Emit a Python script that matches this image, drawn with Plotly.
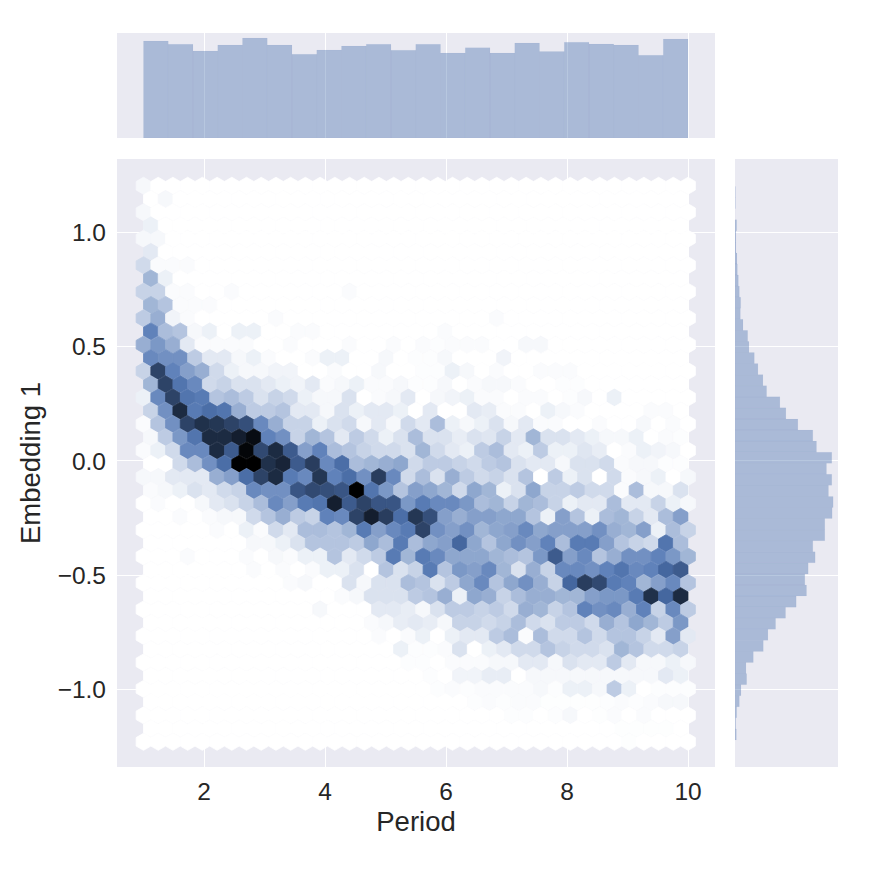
import colorsys
import plotly.graph_objects as go

# page offset of the plot div, sizes in px
PAGE = 872
OFFSET = 8
SIZE = PAGE - 2 * OFFSET

FONT = "Liberation Sans, Arial, sans-serif"
TEXT = "#262626"
PANEL = "#eaeaf2"
BASE = (0x4c / 255, 0x72 / 255, 0xb0 / 255)

X_TICKS = [2, 4, 6, 8, 10]
Y_TICKS = [-1.0, -0.5, 0.0, 0.5, 1.0]
X_RANGE = [0.562, 10.446]
Y_RANGE = [-1.338, 1.32]

# hex lattice
X_MIN, X_MAX = 1.0, 10.0
Y_TOP, Y_BOTTOM = 1.203, -1.228
N_COLS = 37
N_ROWS = 42
LEVEL_MAX = 38

# top marginal, 22 bins on Period
period_counts = [292, 282, 262, 280, 301, 280, 252, 265, 277, 282, 264,
                 282, 256, 272, 256, 286, 260, 288, 283, 280, 249, 298]

# right marginal, 50 bins on Embedding 1, top to bottom
embedding_counts = [1, 1, 0, 5, 3, 3, 6, 7, 10, 13, 17, 16, 24, 38, 42, 58, 69,
                    84, 95, 135, 153, 189, 234, 245, 291, 275, 291, 281, 295,
                    292, 270, 270, 234, 241, 220, 210, 215, 184, 152, 122, 99,
                    85, 55, 33, 35, 18, 13, 5, 2, 4]
EMB_TOP, EMB_BOTTOM = 1.2, -1.22

# darkness read per hexagon, rows from top to bottom, short rows end in white
hex_rows_top = [
    [1],
    [0, 1],
    [1],
    [2],
    [1, 1],
    [3],
    [5, .5, .5, .5],
    [10, 2],
    [6, 6, .5, .5, 0, 0, .5, 0, 0, 0, 0, 0, 0, 0, .5],
    [10, 8, .5, .5, .5],
    [7, 11, 1.5, .5, 0, 0, 0, 0, 0, .5, 0, 0, 0, 0, 0, 0, 0, 0, 0, 0, 0, 0, 0, 0, .5],
    [17, 9, 8, 1, 2, 0, 2, 2, 0, 0, .5, .5, 0, 0, 0, 0, 0, 0, 0, 0, .5],
    [11, 14, 11, 3, .5, .5, .5, .5, 0, 0, .5, 0, 0, 0, .5, 0, 0, .5, 0, .5, .3, .5, .5, .5, 0, 0, 1, 1],
    [16, 15, 15, 7, 3, 3, 1, 2, .5, 0, 0, .5, 2, 2, 0, 0, 1, 0, .3, .3, 1, 0, 0, 0, 1.5],
]
hex_rows_middle = [
    [6, 27, 17, 13, 11, 5, 2, 1, 1, 1.5, 1.5, 0, 0, .5, 0, 0, 1, 0, 0, .3, .3, 2, 1, 0, .5, 0, 0, .5, .5, .5],
    [10, 27, 19, 16, 5, 6, 4, 4, 3, 2, 1.5, 3, .5, 1, 2, .5, .5, 1, .3, .3, 1, 0, .5, 1, 1, .5, 0, 0, .3, .3],
    [2, 16, 27, 19, 18, 8, 9, 7, 4, 6, 5, 2, 1, 1, 4, 0, .5, 1, 3, 0, 1, 1.5, 2, .5, .5, 0, .5, .5, 0, .3, 1, 0, 2],
    [6, 15, 31, 18, 20, 19, 11, 7, 7, 8, 3, 3, 1, 4, 2, 3, 3, 2, 0, 3, 0, 0, 3, 2.5, .5, .5, 0, 2, 1, .5, 0, 0, 0, 0, .5, .5],
    [.5, 8, 15, 27, 30, 29, 27, 25, 16, 11, 6, 6, 2, 4, 5, 1, 3, 1, 5, 3, 9, 2, 1, 2, 4, 1, 3, .5, .5, 0, 0, .5, 0, 0, 1, 0, .5],
    [1, 7, 14, 19, 31, 31, 33, 36, 17, 15, 6, 10, 8, 3, 7, 5, 2, 4, 9, 4, 4, 2.5, 4, 3.5, 6, 3, 10, 4, 4, 3, 2, 1, 1, 2, 0, .5, .3],
    [.5, 2, 5, 16, 16, 31, 23, 37, 26, 31, 23, 13, 17, 9, 8, 6, 5, 5, 4, 10, 5, 3, 2, 7, 9, 3, 2, 7, 2, 2, 3.5, 2.5, 0, .5, 2, 1.5, 1, 0],
    [0, 0, 5, 9, 15, 20, 40, 38, 30, 32, 23, 28, 16, 20, 9, 10, 11, 12, 5, 7, 7, 6, 5, 7, 8, 4, 3, 3, 1, 4, 4, 5, .5, 1, 1, .3, .3],
    [1, 1, 3, 3, 3, 11, 13, 20, 27, 31, 18, 16, 29, 17, 20, 15, 28, 16, 5, 9, 4, 11, 7, 5, 6, 4, 8, 0, 7, 2, 4, 0, 5, .5, 1, 2, 0, 1],
    [.5, 1, 2, 4, 3, 5, 6, 16, 15, 15, 24, 26, 25, 24, 39, 19, 14, 8, 13, 12, 10, 5, 12, 10, 2, 4, 12, 6, 6, 7, 5, 5, .5, 9, 1, 1, 4],
    [0, .5, 0, 0, 1, 3, 4, 6, 9, 16, 13, 18, 19, 33, 23, 27, 24, 24, 14, 18, 16, 16, 14, 9, 10, 6, 10, 9, 6, 2, 3, 3, 9, 3, 3, 6, 2, 1],
    [0, 0, .5, 0, .5, 1, 1, 5, 8, 11, 7, 6, 17, 16, 27, 33, 28, 20, 29, 25, 13, 11, 13, 13, 12, 12, 8, 2, 13, 8, 2, 9, 10, 6, 3, 9, 13],
    [0, 0, 0, 0, 0, .5, 0, 2, .5, 5, 3, 9, 9, 8, 10, 18, 13, 16, 18, 27, 15, 13, 15, 10, 12, 13, 16, 12, 13, 13, 13, 15, 11, 10, 13, 2, 9, 6],
    [0, 0, 0, 0, 0, 0, 0, 1, 1, 2, 4, 8, 8, 8, 7, 12, 9, 18, 9, 12, 13, 21, 12, 8, 12, 15, 13, 17, 9, 18, 18, 13, 8, 6, 5, 19, 9],
    [0, 0, 0, .5, 0, 0, 0, .5, 0, 1, .5, 2, 2, 8, 3, 5, 7, 18, 10, 18, 16, 12, 12, 12, 10, 9, 8, 14, 23, 13, 16, 8, 11, 15, 15, 17, 14, 10],
]
hex_rows_bottom = [
    [0, 0, 0, 0, 0, 0, 0, .5, 0, .5, 0, .5, 2, 2, 4, 0, 8, 4, 6, 18, 8, 14, 13, 16, 10, 4, 11, 6, 16, 16, 15, 17, 19, 16, 17, 21, 23],
    [0] * 10 + [.5, 1, 0, 0, 4, 1, 4, 4, 9, 8, 4, 7, 12, 16, 8, 12, 15, 11, 6, 21, 28, 26, 18, 17, 10, 13, 16, 8],
    [0] * 13 + [.5, 1, 4, 4, 4, 7, 8, 11, 2, 12, 11, 6, 9, 11, 11, 10, 10, 13, 14, 14, 18, 30, 21, 31],
    [0] * 12 + [1, 0, 0, 0, 3, 3, 2.5, 1, 4, 7, 7, 6, 7, 5, 11, 10, 6, 8, 17, 15, 16, 11, 17, 6, 16, 7],
    [0] * 15 + [.5, 1, 2.5, 3, 2.5, 1, 6, 6, 5, 6, 9, 5, 4, 7, 7, 5, 11, 8, 12, 10, 7, 14],
    [0] * 16 + [.5, 0, .5, 2, 0, 2, 3, 3, 7, 9, .5, 9, 5, 5, 8, 5, 8, 8, 6, 3, 13, 3],
    [0] * 17 + [2, .3, .3, .5, 4, 0, 2, 3, 5, 5, 8, 6, 5, 5, 4, 10, 8, 5, 5, 6],
    [0] * 18 + [.3, .3, 0, .5, .5, .5, 1, 1, 3, 3, 1, 4, 3, 3, 7, 3, 1, 1, 2, 1],
    [0] * 19 + [.3, 0, 1.5, 1.5, 2.5, 2.5, 0, 1, 1, 1, 1, 1, 1, 1, 1, 1, 3, 2],
    [0] * 20 + [.3, .5, .3, .5, .5, .5, .5, 1, .3, 2, 2, 1, 7, 2, 0, .3, .3, .3],
    [0] * 22 + [.3, .5, .3, .5, .5, .2, .2, .2, .2, .3, .5, .3, .5, 1, 1],
    [0] * 25 + [.3, .3, 0, .3, 1, 0, .2, .5, 0, .5],
    [0] * 32 + [.2, .2, .2, .2],
    [0] * 33 + [.2],
]


def dom_x(left, right):
    return [(left - OFFSET) / SIZE, (right - OFFSET) / SIZE]


def dom_y(top, bottom):
    return [1 - (bottom - OFFSET) / SIZE, 1 - (top - OFFSET) / SIZE]


# same ramp as seaborn's jointplot hex map, lightness 1 to 0 at the base hue
h, _, s = colorsys.rgb_to_hls(*BASE)
stops = []
for k in range(12):
    l = 1 - k / 11
    r, g, b = colorsys.hls_to_rgb(h, l, s)
    stops.append([k / 11, f"rgb({r * 255:.0f},{g * 255:.0f},{b * 255:.0f})"])

# lay the rows out on the lattice, odd rows are shifted half a column
sx = (X_MAX - X_MIN) / N_COLS
sy = (Y_TOP - Y_BOTTOM) / N_ROWS
hex_x, hex_y, hex_c = [], [], []
for r, row in enumerate(hex_rows_top + hex_rows_middle + hex_rows_bottom):
    n = N_COLS if r % 2 else N_COLS + 1
    row = row + [0] * (n - len(row))
    for i, v in enumerate(row):
        hex_x.append(X_MIN + sx * (i + (0.5 if r % 2 else 0)))
        hex_y.append(Y_TOP - sy * r)
        hex_c.append(v)

bin_w = (X_MAX - X_MIN) / len(period_counts)
period_x = [X_MIN + bin_w * (i + 0.5) for i in range(len(period_counts))]
bin_h = (EMB_TOP - EMB_BOTTOM) / len(embedding_counts)
embedding_y = [EMB_TOP - bin_h * (i + 0.5) for i in range(len(embedding_counts))]

bar_fill = "rgba(76,114,176,0.4)"
bar_edge = dict(color="rgba(76,114,176,0.06)", width=0.5)

fig = go.Figure()
fig.add_trace(go.Scatter(
    x=hex_x, y=hex_y, mode="markers", xaxis="x", yaxis="y", hoverinfo="skip",
    marker=dict(symbol="hexagon", size=17, color=hex_c, colorscale=stops,
                cmin=0, cmax=LEVEL_MAX, showscale=False,
                # edge in the cell's own colour closes the seams between cells
                line=dict(width=0.8, color=hex_c, colorscale=stops,
                          cmin=0, cmax=LEVEL_MAX))))
fig.add_trace(go.Bar(
    x=period_x, y=period_counts, width=bin_w, xaxis="x2", yaxis="y2",
    marker=dict(color=bar_fill, line=bar_edge)))
fig.add_trace(go.Bar(
    y=embedding_y, x=embedding_counts, width=bin_h, orientation="h",
    xaxis="x3", yaxis="y3", marker=dict(color=bar_fill, line=bar_edge)))

grid = dict(showgrid=True, gridcolor="white", gridwidth=1.3, zeroline=False,
            showline=False, ticks="")
no_grid = dict(showgrid=False, zeroline=False, showline=False, ticks="",
               showticklabels=False)

fig.update_layout(
    width=SIZE, height=SIZE, margin=dict(l=0, r=0, t=0, b=0, autoexpand=False),
    paper_bgcolor="white", plot_bgcolor=PANEL, showlegend=False,
    font=dict(family=FONT, color=TEXT, size=24.5),
    xaxis=dict(domain=dom_x(117, 715), range=X_RANGE, tickvals=X_TICKS,
               ticklabelstandoff=7,
               title=dict(text="Period", font=dict(size=27.5), standoff=8), **grid),
    yaxis=dict(domain=dom_y(159, 767), range=Y_RANGE, tickvals=Y_TICKS,
               tickformat=".1f", ticklabelstandoff=10,
               title=dict(text="Embedding 1", font=dict(size=27.5), standoff=9), **grid),
    xaxis2=dict(domain=dom_x(117, 715), range=X_RANGE, tickvals=X_TICKS,
                anchor="y2", showticklabels=False, **grid),
    yaxis2=dict(domain=dom_y(33, 138), range=[0, max(period_counts) * 1.05],
                anchor="x2", **no_grid),
    xaxis3=dict(domain=dom_x(735, 838), range=[0, max(embedding_counts) * 1.05],
                anchor="y3", **no_grid),
    yaxis3=dict(domain=dom_y(159, 767), range=Y_RANGE, tickvals=Y_TICKS,
                anchor="x3", showticklabels=False, **grid),
)

fig.write_html("out.html")
